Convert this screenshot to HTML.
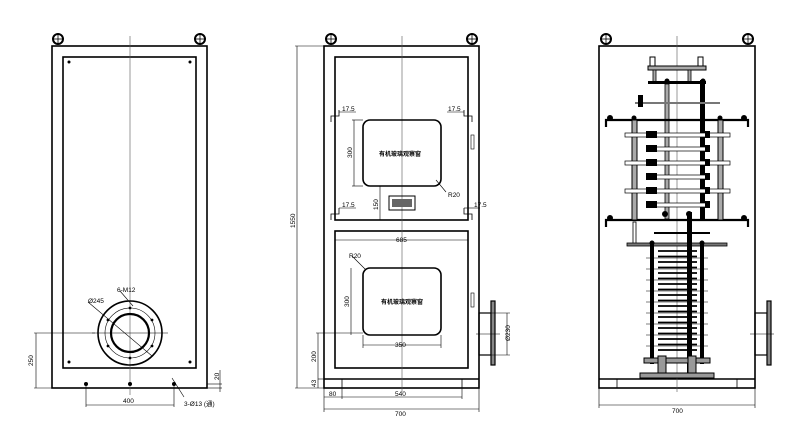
<!DOCTYPE html>
<html><head><meta charset="utf-8"><style>
html,body{margin:0;padding:0;background:#fff;}
svg{display:block;font-family:"Liberation Sans","Noto Sans CJK SC",sans-serif;}
</style></head><body>
<svg width="800" height="441" viewBox="0 0 800 441" xmlns="http://www.w3.org/2000/svg">
<g fill="none" stroke="#000">
<!-- ===== LEFT VIEW ===== -->
<rect x="52" y="46" width="155" height="342" stroke-width="1.6"/>
<rect x="63" y="57" width="133" height="311" stroke-width="1.6"/>
<line x1="130" y1="36" x2="130" y2="395" stroke="#555" stroke-width="0.6"/>
<circle cx="58" cy="39" r="5" stroke-width="2"/><line x1="53" y1="39" x2="63" y2="39" stroke-width="0.8"/><line x1="58" y1="34" x2="58" y2="44" stroke-width="0.8"/>
<circle cx="200" cy="39" r="5" stroke-width="2"/><line x1="195" y1="39" x2="205" y2="39" stroke-width="0.8"/><line x1="200" y1="34" x2="200" y2="44" stroke-width="0.8"/>
<g fill="#000" stroke="none"><circle cx="69" cy="62" r="1.5"/><circle cx="190" cy="62" r="1.5"/><circle cx="69" cy="362" r="1.5"/><circle cx="190" cy="362" r="1.5"/>
<circle cx="86" cy="384" r="2"/><circle cx="130" cy="384" r="2"/><circle cx="174" cy="384" r="2"/></g>
<circle cx="130" cy="333" r="32" stroke-width="1.6"/>
<circle cx="130" cy="333" r="25" stroke-width="0.6"/>
<circle cx="130" cy="333" r="19" stroke-width="2.2"/>
<g fill="#000" stroke="none"><circle cx="130" cy="308" r="1.4"/><circle cx="130" cy="358" r="1.4"/><circle cx="108" cy="320" r="1.4"/><circle cx="152" cy="320" r="1.4"/><circle cx="108" cy="346" r="1.4"/><circle cx="152" cy="346" r="1.4"/></g>
<line x1="92" y1="333" x2="168" y2="333" stroke-width="0.6"/>
<line x1="34" y1="333" x2="95" y2="333" stroke-width="0.6"/>
<line x1="88" y1="302" x2="152" y2="356" stroke-width="0.6"/>
<line x1="120" y1="291" x2="133" y2="306" stroke-width="0.6"/>
<line x1="36" y1="333" x2="36" y2="388" stroke-width="0.6"/>
<line x1="34" y1="388" x2="52" y2="388" stroke-width="0.6"/>
<line x1="86" y1="384" x2="86" y2="407" stroke-width="0.6"/><line x1="174" y1="384" x2="174" y2="407" stroke-width="0.6"/>
<line x1="86" y1="405" x2="174" y2="405" stroke-width="0.6"/>
<line x1="207" y1="388" x2="222" y2="388" stroke-width="0.6"/><line x1="207" y1="384" x2="222" y2="384" stroke-width="0.6"/>
<line x1="220" y1="370" x2="220" y2="392" stroke-width="0.6"/>
<line x1="172" y1="378" x2="184" y2="397" stroke-width="0.6"/>
<!-- ===== MIDDLE VIEW ===== -->
<rect x="324" y="46" width="155" height="342" stroke-width="1.6"/>
<line x1="324" y1="379" x2="479" y2="379" stroke-width="1.4"/>
<line x1="342" y1="379" x2="342" y2="388" stroke-width="0.8"/><line x1="462" y1="379" x2="462" y2="388" stroke-width="0.8"/>
<rect x="335" y="57" width="133" height="163" stroke-width="1.6"/>
<rect x="335" y="231" width="133" height="137" stroke-width="1.6"/>
<line x1="402" y1="36" x2="402" y2="392" stroke="#555" stroke-width="0.6"/>
<circle cx="331" cy="39" r="5" stroke-width="2"/><line x1="326" y1="39" x2="336" y2="39" stroke-width="0.8"/><line x1="331" y1="34" x2="331" y2="44" stroke-width="0.8"/>
<circle cx="472" cy="39" r="5" stroke-width="2"/><line x1="467" y1="39" x2="477" y2="39" stroke-width="0.8"/><line x1="472" y1="34" x2="472" y2="44" stroke-width="0.8"/>
<rect x="363" y="120" width="78" height="66" rx="7" stroke-width="1.6"/>
<rect x="363" y="268" width="78" height="67" rx="7" stroke-width="1.6"/>
<rect x="389" y="196" width="26" height="14" stroke-width="1"/>
<rect x="392" y="199" width="20" height="8" fill="#666" stroke="none"/>
<rect x="471" y="135" width="3" height="14" stroke-width="0.6"/>
<rect x="471" y="293" width="3" height="14" stroke-width="0.6"/>
<!-- small brackets -->
<path d="M331 122 V116 H339 V110" stroke-width="0.8"/><path d="M472 122 V116 H464 V110" stroke-width="0.8"/>
<path d="M331 220 V214 H339 V208" stroke-width="0.8"/><path d="M472 220 V214 H464 V208" stroke-width="0.8"/>
<line x1="339" y1="112" x2="356" y2="112" stroke-width="0.6"/><line x1="447" y1="112" x2="464" y2="112" stroke-width="0.6"/>
<line x1="339" y1="208" x2="356" y2="208" stroke-width="0.6"/><line x1="464" y1="208" x2="480" y2="208" stroke-width="0.6"/>
<!-- dims -->
<line x1="354" y1="120" x2="354" y2="186" stroke-width="0.6"/><line x1="352" y1="120" x2="363" y2="120" stroke-width="0.6"/><line x1="352" y1="186" x2="363" y2="186" stroke-width="0.6"/>
<line x1="380" y1="186" x2="380" y2="220" stroke-width="0.6"/>
<line x1="351" y1="268" x2="351" y2="335" stroke-width="0.6"/>
<line x1="335" y1="240" x2="468" y2="240" stroke-width="0.6"/>
<line x1="363" y1="345" x2="441" y2="345" stroke-width="0.6"/><line x1="363" y1="335" x2="363" y2="348" stroke-width="0.6"/><line x1="441" y1="335" x2="441" y2="348" stroke-width="0.6"/>
<line x1="316" y1="333" x2="363" y2="333" stroke-width="0.6"/>
<line x1="318" y1="333" x2="318" y2="388" stroke-width="0.6"/>
<line x1="318" y1="379" x2="324" y2="379" stroke-width="0.6"/>
<line x1="297" y1="46" x2="297" y2="388" stroke-width="0.6"/><line x1="295" y1="46" x2="324" y2="46" stroke-width="0.6"/><line x1="295" y1="388" x2="324" y2="388" stroke-width="0.6"/>
<line x1="324" y1="388" x2="324" y2="412" stroke-width="0.6"/><line x1="479" y1="388" x2="479" y2="412" stroke-width="0.6"/>
<line x1="342" y1="388" x2="342" y2="399" stroke-width="0.6"/><line x1="462" y1="388" x2="462" y2="399" stroke-width="0.6"/>
<line x1="324" y1="397" x2="462" y2="397" stroke-width="0.6"/>
<line x1="324" y1="409" x2="479" y2="409" stroke-width="0.6"/>
<line x1="436" y1="180" x2="446" y2="192" stroke-width="0.6"/>
<line x1="352" y1="256" x2="366" y2="270" stroke-width="0.6"/>
<!-- flange middle -->
<rect x="479" y="313" width="12" height="42" stroke-width="1.2"/>
<rect x="491" y="301" width="4" height="64" fill="#888" stroke-width="1.2"/>
<line x1="491" y1="313" x2="510" y2="313" stroke-width="0.6"/><line x1="491" y1="355" x2="510" y2="355" stroke-width="0.6"/>
<line x1="507" y1="313" x2="507" y2="355" stroke-width="0.6"/>
<line x1="476" y1="334" x2="500" y2="334" stroke-width="0.6"/>
<!-- ===== RIGHT VIEW ===== -->
<rect x="599" y="46" width="156" height="342" stroke-width="1.6"/>
<line x1="599" y1="379" x2="755" y2="379" stroke-width="1.4"/>
<line x1="617" y1="379" x2="617" y2="388" stroke-width="0.8"/><line x1="737" y1="379" x2="737" y2="388" stroke-width="0.8"/>
<line x1="677" y1="36" x2="677" y2="392" stroke="#555" stroke-width="0.6"/>
<circle cx="606" cy="39" r="5" stroke-width="2"/><line x1="601" y1="39" x2="611" y2="39" stroke-width="0.8"/><line x1="606" y1="34" x2="606" y2="44" stroke-width="0.8"/>
<circle cx="748" cy="39" r="5" stroke-width="2"/><line x1="743" y1="39" x2="753" y2="39" stroke-width="0.8"/><line x1="748" y1="34" x2="748" y2="44" stroke-width="0.8"/>
<rect x="755" y="313" width="12" height="42" stroke-width="1.2"/>
<rect x="767" y="301" width="4" height="64" fill="#888" stroke-width="1.2"/>
<line x1="750" y1="334" x2="774" y2="334" stroke-width="0.6"/>
<line x1="599" y1="388" x2="599" y2="408" stroke-width="0.6"/><line x1="755" y1="388" x2="755" y2="408" stroke-width="0.6"/>
<line x1="599" y1="405" x2="755" y2="405" stroke-width="0.6"/>
<!-- mechanism upper -->
<rect x="650" y="57" width="5" height="9" stroke-width="1"/><rect x="698" y="57" width="5" height="9" stroke-width="1"/>
<rect x="648" y="66" width="58" height="4" fill="#aaa" stroke-width="1"/>
<rect x="653" y="70" width="3" height="12" fill="#aaa" stroke-width="0.8"/><rect x="688" y="70" width="3" height="12" fill="#aaa" stroke-width="0.8"/>
<rect x="648" y="81" width="58" height="3" fill="#000" stroke="none"/>
<rect x="665" y="84" width="4" height="135" fill="#aaa" stroke-width="0.8"/>
<rect x="700" y="80" width="5" height="140" fill="#000" stroke="none"/>
<rect x="635" y="102" width="85" height="2" fill="#777" stroke="none"/>
<rect x="638" y="95" width="5" height="12" fill="#000" stroke="none"/>
<path d="M606 127 V120 H748 V127" stroke-width="2.2"/>
<path d="M606 227 V220 H748 V227" stroke-width="2.2"/>
<g fill="#000" stroke="none"><circle cx="610" cy="118" r="3"/><circle cx="744" cy="118" r="3"/><circle cx="610" cy="218" r="3"/><circle cx="744" cy="218" r="3"/><circle cx="634" cy="118" r="2.5"/><circle cx="720" cy="118" r="2.5"/><circle cx="703" cy="81" r="2.5"/><circle cx="667" cy="81" r="2.5"/></g>
<rect x="632" y="120" width="5" height="100" fill="#aaa" stroke-width="1"/>
<rect x="718" y="120" width="5" height="100" fill="#aaa" stroke-width="1"/>
<g stroke-width="0.7">
<rect x="625" y="133" width="105" height="4" fill="#fff"/>
<rect x="625" y="161" width="105" height="4" fill="#fff"/>
<rect x="625" y="189" width="105" height="4" fill="#fff"/>
<rect x="648" y="147" width="60" height="4" fill="#fff"/>
<rect x="648" y="175" width="60" height="4" fill="#fff"/>
<rect x="648" y="203" width="60" height="4" fill="#fff"/>
</g>
<g fill="#000" stroke="none">
<rect x="646" y="131" width="11" height="7"/><rect x="646" y="145" width="11" height="7"/><rect x="646" y="159" width="11" height="7"/><rect x="646" y="173" width="11" height="7"/><rect x="646" y="187" width="11" height="7"/><rect x="646" y="201" width="11" height="7"/>
<rect x="705" y="131" width="5" height="7"/><rect x="705" y="145" width="5" height="7"/><rect x="705" y="159" width="5" height="7"/><rect x="705" y="173" width="5" height="7"/><rect x="705" y="187" width="5" height="7"/><rect x="705" y="201" width="5" height="7"/>
</g>
<!-- lower -->
<rect x="633" y="222" width="3" height="22" stroke-width="0.8"/>
<rect x="654" y="232" width="56" height="2" fill="#000" stroke="none"/>
<rect x="627" y="243" width="100" height="3" fill="#777" stroke-width="0.8"/>
<rect x="650" y="244" width="4" height="120" fill="#000" stroke="none"/>
<rect x="700" y="244" width="4" height="120" fill="#000" stroke="none"/>
<rect x="687" y="212" width="5" height="165" fill="#000" stroke="none"/>
<g fill="#000" stroke="none"><circle cx="652" cy="243" r="2.5"/><circle cx="702" cy="243" r="2.5"/><circle cx="689" cy="214" r="3"/><circle cx="665" cy="214" r="3"/></g>
<g stroke-width="1.8">
<line x1="658" y1="251" x2="697" y2="251"/><line x1="658" y1="256.5" x2="697" y2="256.5"/><line x1="658" y1="262" x2="697" y2="262"/><line x1="658" y1="267.5" x2="697" y2="267.5"/><line x1="658" y1="273" x2="697" y2="273"/><line x1="658" y1="278.5" x2="697" y2="278.5"/><line x1="658" y1="284" x2="697" y2="284"/><line x1="658" y1="289.5" x2="697" y2="289.5"/><line x1="658" y1="295" x2="697" y2="295"/><line x1="658" y1="300.5" x2="697" y2="300.5"/><line x1="658" y1="306" x2="697" y2="306"/><line x1="658" y1="311.5" x2="697" y2="311.5"/><line x1="658" y1="317" x2="697" y2="317"/><line x1="658" y1="322.5" x2="697" y2="322.5"/><line x1="658" y1="328" x2="697" y2="328"/><line x1="658" y1="333.5" x2="697" y2="333.5"/><line x1="658" y1="339" x2="697" y2="339"/><line x1="658" y1="344.5" x2="697" y2="344.5"/><line x1="658" y1="350" x2="697" y2="350"/>
</g>
<g stroke-width="0.6">
<line x1="646" y1="258" x2="708" y2="258"/><line x1="646" y1="269" x2="708" y2="269"/><line x1="646" y1="280" x2="708" y2="280"/><line x1="646" y1="291" x2="708" y2="291"/><line x1="646" y1="302" x2="708" y2="302"/><line x1="646" y1="313" x2="708" y2="313"/><line x1="646" y1="324" x2="708" y2="324"/><line x1="646" y1="335" x2="708" y2="335"/><line x1="646" y1="346" x2="708" y2="346"/>
</g>
<rect x="644" y="358" width="66" height="5" fill="#999" stroke-width="1"/>
<rect x="658" y="356" width="8" height="20" fill="#999" stroke-width="1"/>
<rect x="688" y="356" width="8" height="20" fill="#999" stroke-width="1"/>
<rect x="640" y="373" width="74" height="5" fill="#999" stroke-width="1"/>
</g>
<!-- ===== TEXT ===== -->
<g font-size="6.5" fill="#000">
<text x="117" y="292">6-M12</text>
<text x="88" y="303">Ø245</text>
<text x="123" y="403">400</text>
<text x="184" y="406">3-Ø13 (通)</text>
<text transform="translate(33,366) rotate(-90)">250</text>
<text transform="translate(219,380) rotate(-90)">20</text>
<text x="342" y="111">17.5</text><text x="448" y="111">17.5</text>
<text x="342" y="207">17.5</text><text x="474" y="207">17.5</text>
<text x="396" y="242">685</text>
<text x="448" y="197">R20</text>
<text x="349" y="258">R20</text>
<text x="395" y="347">350</text>
<text transform="translate(352,158) rotate(-90)">300</text>
<text transform="translate(378,210) rotate(-90)">150</text>
<text transform="translate(349,307) rotate(-90)">300</text>
<text transform="translate(316,362) rotate(-90)">200</text>
<text transform="translate(316,387) rotate(-90)">43</text>
<text transform="translate(295,228) rotate(-90)">1550</text>
<text transform="translate(510,341) rotate(-90)">Ø230</text>
<text x="329" y="396">80</text>
<text x="395" y="396">540</text>
<text x="395" y="416">700</text>
<text x="672" y="413">700</text>
</g>
<g font-size="6" font-weight="bold" fill="#000">
<text x="379" y="156">有机玻璃观察窗</text>
<text x="381" y="304">有机玻璃观察窗</text>
</g>
</svg>
</body></html>
